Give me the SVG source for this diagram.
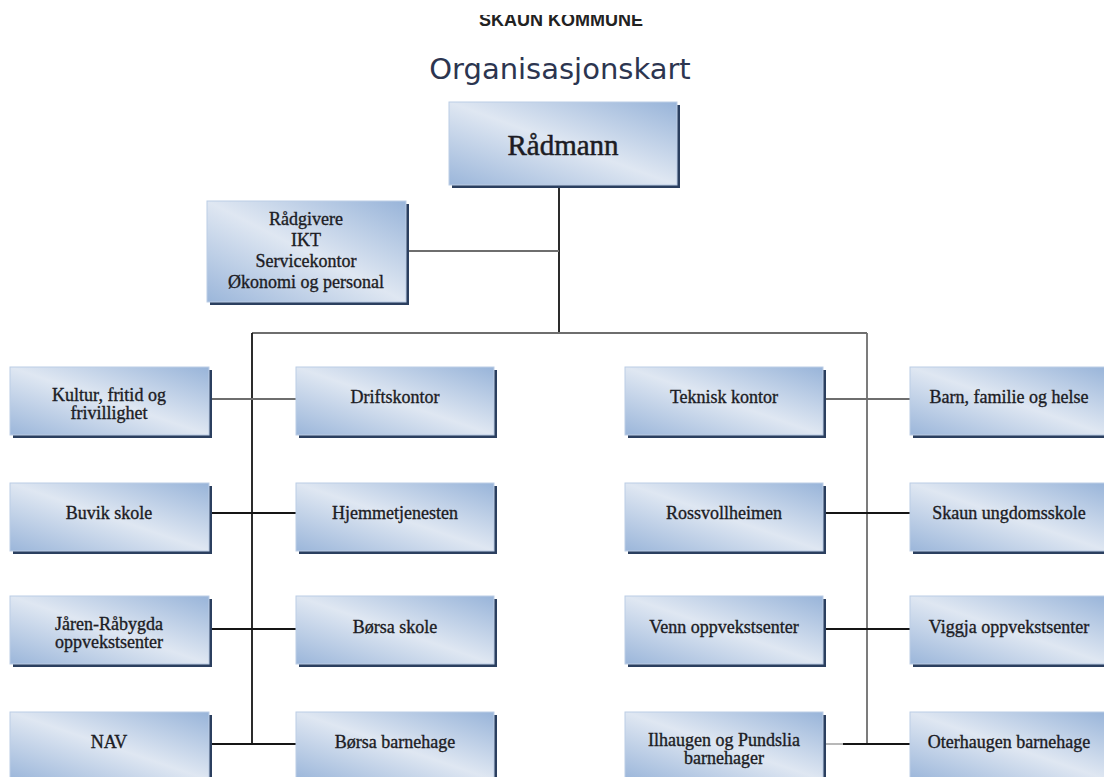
<svg xmlns="http://www.w3.org/2000/svg" width="1104" height="777" viewBox="0 0 1104 777">
  <defs>
    <linearGradient id="boxGrad" x1="0" y1="1" x2="1" y2="0">
      <stop offset="0" stop-color="#9bb6da"/>
      <stop offset="0.5" stop-color="#dfe7f2"/>
      <stop offset="1" stop-color="#98b4d9"/>
    </linearGradient>
    <clipPath id="topClip">
      <rect x="0" y="15" width="1104" height="30"/>
    </clipPath>
  </defs>
  <style>
    .shadow { fill: #2b3f5f; }
    .box { fill: url(#boxGrad); stroke: #bccde5; stroke-width: 1; }
    .lbl { font-family: "Liberation Serif", "Times New Roman", serif; font-size: 18px; fill: #1c1c24; stroke: #1c1c24; stroke-width: 0.35; text-anchor: middle; }
    .big { font-size: 29px; stroke-width: 0.5; }
    .title { font-family: "DejaVu Sans", Verdana, sans-serif; font-size: 29px; fill: #2c3550; text-anchor: middle; }
    .head { font-family: "Liberation Sans", Arial, sans-serif; font-weight: bold; font-size: 18px; fill: #222; text-anchor: middle; }
    .ln { fill: none; stroke: #151515; stroke-width: 1.8; }
    .lg { fill: none; stroke: #6e6e6e; stroke-width: 1.8; }
    .ll { fill: none; stroke: #b0b0b0; stroke-width: 1.8; }
  </style>
  <rect width="1104" height="777" fill="#ffffff"/>

  <text class="head" x="561" y="26" clip-path="url(#topClip)">SKAUN KOMMUNE</text>
  <text class="title" x="560" y="79">Organisasjonskart</text>

  <g id="connectors">
    <line class="ln" x1="559" y1="185" x2="559" y2="333"/>
    <line class="lg" x1="406" y1="251" x2="559" y2="251"/>
    <line class="lg" x1="252" y1="333" x2="867" y2="333"/>
    <line class="ln" x1="252" y1="333" x2="252" y2="744"/>
    <line class="lg" x1="867" y1="333" x2="867" y2="744"/>
    <line class="lg" x1="209" y1="399" x2="296" y2="399"/>
    <line class="lg" x1="823" y1="399" x2="910" y2="399"/>
    <line class="ln" x1="209" y1="513" x2="296" y2="513"/>
    <line class="ln" x1="823" y1="513" x2="910" y2="513"/>
    <line class="ln" x1="209" y1="629" x2="296" y2="629"/>
    <line class="ln" x1="823" y1="629" x2="910" y2="629"/>
    <line class="ln" x1="209" y1="744" x2="296" y2="744"/>
    <line class="ll" x1="823" y1="744" x2="843" y2="744"/>
    <line class="ln" x1="843" y1="744" x2="910" y2="744"/>
  </g>

  <g id="radmann">
    <rect class="shadow" x="452" y="105" width="228" height="83"/>
    <rect class="box" x="449" y="102" width="228" height="83"/>
    <text class="lbl big" x="563" y="155">Rådmann</text>
  </g>

  <g id="radgivere">
    <rect class="shadow" x="210" y="204" width="199" height="101"/>
    <rect class="box" x="207" y="201" width="199" height="101"/>
    <text class="lbl" x="306" y="225">Rådgivere</text>
    <text class="lbl" x="306" y="246">IKT</text>
    <text class="lbl" x="306" y="267">Servicekontor</text>
    <text class="lbl" x="306" y="288">Økonomi og personal</text>
  </g>

  <!-- Row 1 -->
  <g id="kultur">
    <rect class="shadow" x="13" y="370" width="199" height="68"/>
    <rect class="box" x="10" y="367" width="199" height="68"/>
    <text class="lbl" x="109" y="401">Kultur, fritid og</text>
    <text class="lbl" x="109" y="419">frivillighet</text>
  </g>
  <g id="driftskontor">
    <rect class="shadow" x="299" y="370" width="198" height="68"/>
    <rect class="box" x="296" y="367" width="198" height="68"/>
    <text class="lbl" x="395" y="403">Driftskontor</text>
  </g>
  <g id="teknisk">
    <rect class="shadow" x="628" y="370" width="198" height="68"/>
    <rect class="box" x="625" y="367" width="198" height="68"/>
    <text class="lbl" x="724" y="403">Teknisk kontor</text>
  </g>
  <g id="barn">
    <rect class="shadow" x="913" y="370" width="198" height="68"/>
    <rect class="box" x="910" y="367" width="198" height="68"/>
    <text class="lbl" x="1009" y="403">Barn, familie og helse</text>
  </g>

  <!-- Row 2 -->
  <g id="buvik">
    <rect class="shadow" x="13" y="486" width="199" height="68"/>
    <rect class="box" x="10" y="483" width="199" height="68"/>
    <text class="lbl" x="109" y="519">Buvik skole</text>
  </g>
  <g id="hjemmetjenesten">
    <rect class="shadow" x="299" y="486" width="198" height="68"/>
    <rect class="box" x="296" y="483" width="198" height="68"/>
    <text class="lbl" x="395" y="519">Hjemmetjenesten</text>
  </g>
  <g id="rossvoll">
    <rect class="shadow" x="628" y="486" width="198" height="68"/>
    <rect class="box" x="625" y="483" width="198" height="68"/>
    <text class="lbl" x="724" y="519">Rossvollheimen</text>
  </g>
  <g id="ungdomsskole">
    <rect class="shadow" x="913" y="486" width="198" height="68"/>
    <rect class="box" x="910" y="483" width="198" height="68"/>
    <text class="lbl" x="1009" y="519">Skaun ungdomsskole</text>
  </g>

  <!-- Row 3 -->
  <g id="jaren">
    <rect class="shadow" x="13" y="599" width="199" height="68"/>
    <rect class="box" x="10" y="596" width="199" height="68"/>
    <text class="lbl" x="109" y="630">Jåren-Råbygda</text>
    <text class="lbl" x="109" y="648">oppvekstsenter</text>
  </g>
  <g id="borsaskole">
    <rect class="shadow" x="299" y="599" width="198" height="68"/>
    <rect class="box" x="296" y="596" width="198" height="68"/>
    <text class="lbl" x="395" y="633">Børsa skole</text>
  </g>
  <g id="venn">
    <rect class="shadow" x="628" y="599" width="198" height="68"/>
    <rect class="box" x="625" y="596" width="198" height="68"/>
    <text class="lbl" x="724" y="633">Venn oppvekstsenter</text>
  </g>
  <g id="viggja">
    <rect class="shadow" x="913" y="599" width="198" height="68"/>
    <rect class="box" x="910" y="596" width="198" height="68"/>
    <text class="lbl" x="1009" y="633">Viggja oppvekstsenter</text>
  </g>

  <!-- Row 4 -->
  <g id="nav">
    <rect class="shadow" x="13" y="715" width="199" height="68"/>
    <rect class="box" x="10" y="712" width="199" height="68"/>
    <text class="lbl" x="109" y="748">NAV</text>
  </g>
  <g id="borsabarnehage">
    <rect class="shadow" x="299" y="715" width="198" height="68"/>
    <rect class="box" x="296" y="712" width="198" height="68"/>
    <text class="lbl" x="395" y="748">Børsa barnehage</text>
  </g>
  <g id="ilhaugen">
    <rect class="shadow" x="628" y="715" width="198" height="68"/>
    <rect class="box" x="625" y="712" width="198" height="68"/>
    <text class="lbl" x="724" y="746">Ilhaugen og Pundslia</text>
    <text class="lbl" x="724" y="764">barnehager</text>
  </g>
  <g id="oterhaugen">
    <rect class="shadow" x="913" y="715" width="198" height="68"/>
    <rect class="box" x="910" y="712" width="198" height="68"/>
    <text class="lbl" x="1009" y="748">Oterhaugen barnehage</text>
  </g>
</svg>
